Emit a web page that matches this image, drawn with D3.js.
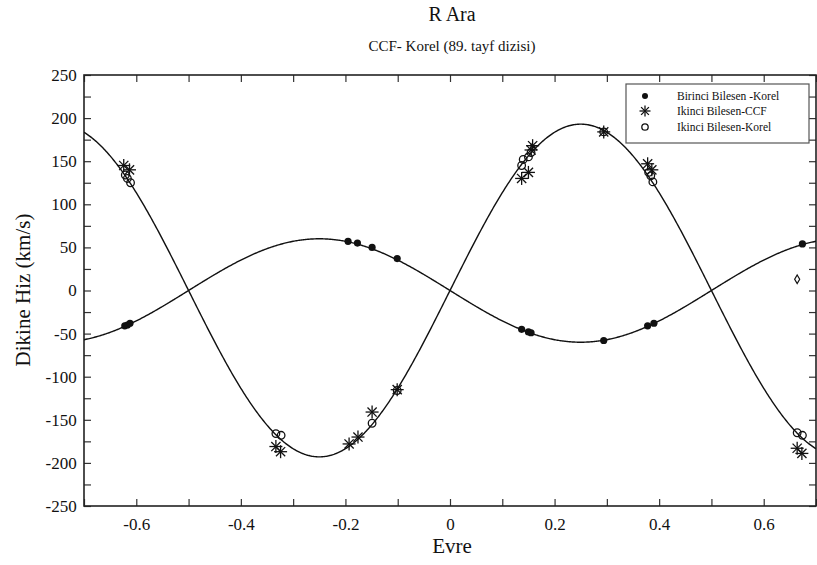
<!DOCTYPE html>
<html><head><meta charset="utf-8">
<script src="https://cdn.jsdelivr.net/npm/d3@7"></script>
<style>body{margin:0;background:#fff}svg{display:block}</style>
</head><body><svg id="c" width="817" height="565"></svg>
<script>
// ---- data ----
const primaryPhase = [-0.622,-0.617,-0.612,-0.195,-0.177,-0.149,-0.101,0.137,0.150,0.155,0.294,0.378,0.390,0.674];
const primaryKorel = [-41,-40,-38,57,55,50,37,-45,-48,-49,-58,-41,-38,54];
const ccfPhase = [-0.624,-0.613,-0.333,-0.324,-0.193,-0.176,-0.149,-0.101,0.137,0.150,0.155,0.158,0.294,0.378,0.386,0.664,0.673];
const ccfVel   = [145,140,-181,-187,-178,-170,-141,-115,130,137,163,168,184,147,140,-183,-189];
const korelPhase = [-0.621,-0.617,-0.611,-0.333,-0.323,-0.149,-0.101,0.137,0.140,0.150,0.155,0.294,0.380,0.384,0.388,0.664,0.674];
const korelVel   = [134,130,125,-166,-168,-154,-116,145,152,155,160,184,137,133,126,-165,-168];
const oddPhase = [0.664];
const oddVel = [13];
// orbital solution (fit curves)
const gammaVel = 0, K1 = 60, K2 = 193;
const xTicks = [-0.6,-0.4,-0.2,0,0.2,0.4,0.6];
const yTicks = [-250,-200,-150,-100,-50,0,50,100,150,200,250];
const legendLabels = ["Birinci Bilesen -Korel","Ikinci Bilesen-CCF","Ikinci Bilesen-Korel"];

const FONT = '"Liberation Serif"';
const svg = d3.select("#c");
const L=84, R=816, T=75, B=506;
const x = d3.scaleLinear().domain([-0.7,0.7]).range([L,R]);
const y = d3.scaleLinear().domain([-250,250]).range([B,T]);

// titles
svg.append("text").attr("x",452).attr("y",21).attr("text-anchor","middle").attr("font-family",FONT).attr("fill","#111").style("font-size","20px").text("R Ara");
svg.append("text").attr("x",452).attr("y",51).attr("text-anchor","middle").attr("font-family",FONT).attr("fill","#111").style("font-size","15px").text("CCF- Korel (89. tayf dizisi)");

// axes
const tickLen = 7;
const fmt = d=>String(d);
const gB = svg.append("g").attr("transform",`translate(0,${B})`).call(d3.axisBottom(x).tickValues(d3.range(-7,8).map(i=>i/10)).tickSize(-tickLen).tickFormat(d=>xTicks.some(t=>Math.abs(t-d)<1e-9)?fmt(+d.toFixed(1)):""));
const gT = svg.append("g").attr("transform",`translate(0,${T})`).call(d3.axisTop(x).tickValues(d3.range(-7,8).map(i=>i/10)).tickSize(-tickLen).tickFormat(""));
const gL = svg.append("g").attr("transform",`translate(${L},0)`).call(d3.axisLeft(y).tickValues(d3.range(-250,251,25)).tickSize(-tickLen).tickFormat(d=>yTicks.includes(d)?fmt(d):""));
const gR = svg.append("g").attr("transform",`translate(${R},0)`).call(d3.axisRight(y).tickValues(d3.range(-250,251,25)).tickSize(-tickLen).tickFormat(""));
[gB,gT,gL,gR].forEach(g=>{g.attr("font-family",FONT);g.select(".domain").remove();g.selectAll("line").attr("stroke","#333").attr("stroke-width",1.2);});
gB.selectAll("text").attr("font-family",FONT).attr("fill","#111").style("font-size","17px").attr("dy","1.25em");
gL.selectAll("text").attr("font-family",FONT).attr("fill","#111").style("font-size","17px").attr("dx","-0.25em");
svg.append("rect").attr("x",L).attr("y",T).attr("width",R-L).attr("height",B-T).attr("fill","none").attr("stroke","#222").attr("stroke-width",1.6);

svg.append("text").attr("x",452).attr("y",553).attr("text-anchor","middle").attr("font-family",FONT).attr("fill","#111").style("font-size","21px").text("Evre");
svg.append("text").attr("transform","translate(30,290) rotate(-90)").attr("text-anchor","middle").attr("font-family",FONT).attr("fill","#111").style("font-size","21px").text("Dikine Hiz (km/s)");

// fit curves
const clipId="pc";
svg.append("clipPath").attr("id",clipId).append("rect").attr("x",L).attr("y",T).attr("width",R-L).attr("height",B-T);
const ph = d3.range(-0.7,0.7001,0.002);
const line = d3.line().x(d=>x(d[0])).y(d=>y(d[1]));
const curves = svg.append("g").attr("clip-path",`url(#${clipId})`);
curves.append("path").attr("d",line(ph.map(p=>[p,gammaVel-K1*Math.sin(2*Math.PI*p)]))).attr("fill","none").attr("stroke","#111").attr("stroke-width",1.4);
curves.append("path").attr("d",line(ph.map(p=>[p,gammaVel+K2*Math.sin(2*Math.PI*p)]))).attr("fill","none").attr("stroke","#111").attr("stroke-width",1.4);

// markers
function star(g,cx,cy,r){
  for(let i=0;i<4;i++){const a=i*Math.PI/4;
    g.append("line").attr("x1",cx-r*Math.cos(a)).attr("y1",cy-r*Math.sin(a)).attr("x2",cx+r*Math.cos(a)).attr("y2",cy+r*Math.sin(a)).attr("stroke","#111").attr("stroke-width",1.3);}
}
const mk = svg.append("g");
korelPhase.forEach((p,i)=>mk.append("circle").attr("cx",x(p)).attr("cy",y(korelVel[i])).attr("r",3.8).attr("fill","none").attr("stroke","#111").attr("stroke-width",1.3));
ccfPhase.forEach((p,i)=>star(mk,x(p),y(ccfVel[i]),6.5));
primaryPhase.forEach((p,i)=>mk.append("circle").attr("cx",x(p)).attr("cy",y(primaryKorel[i])).attr("r",3.6).attr("fill","#111"));
oddPhase.forEach((p,i)=>mk.append("path").attr("d",d3.symbol(d3.symbolDiamond,22)()).attr("transform",`translate(${x(p)},${y(oddVel[i])})`).attr("fill","none").attr("stroke","#111").attr("stroke-width",1.2));

// legend
const lg = svg.append("g");
lg.append("rect").attr("x",626).attr("y",84).attr("width",183).attr("height",59).attr("fill","#fff").attr("stroke","#555").attr("stroke-width",1.2);
const ly=[96,111,127];
lg.append("circle").attr("cx",645).attr("cy",ly[0]).attr("r",3).attr("fill","#111");
star(lg,645,ly[1],5.5);
lg.append("circle").attr("cx",645).attr("cy",ly[2]).attr("r",3.2).attr("fill","none").attr("stroke","#111").attr("stroke-width",1.3);
legendLabels.forEach((t,i)=>lg.append("text").attr("x",677).attr("y",ly[i]+4).attr("font-family",FONT).attr("fill","#111").style("font-size","11.5px").text(t));
</script></body></html>
